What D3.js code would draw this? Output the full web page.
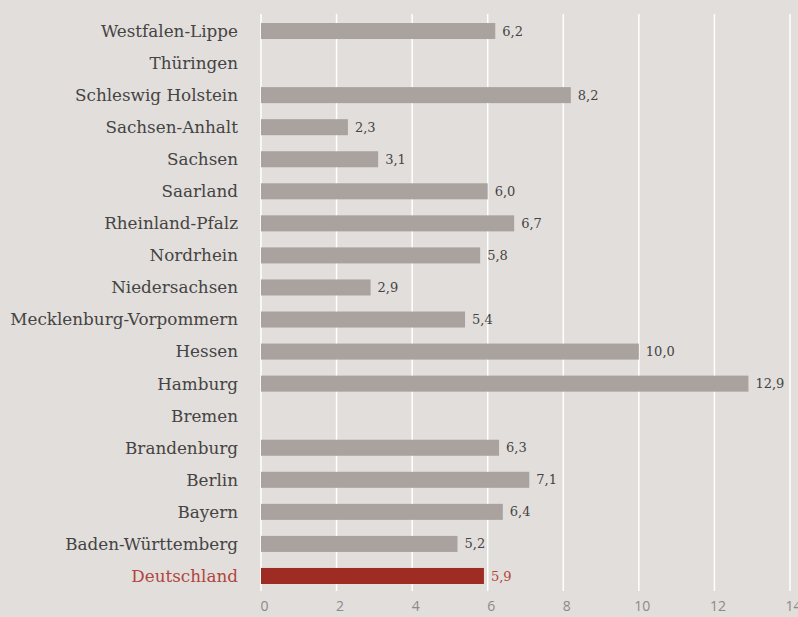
<!DOCTYPE html>
<html>
<head>
<meta charset="utf-8">
<script src="https://cdn.jsdelivr.net/npm/d3@7"></script>
<style>
  html, body { margin: 0; padding: 0; background: #e2dedb; }
  svg { display: block; }
</style>
</head>
<body>
<div id="plot"></div>
<script>
// rows, top to bottom
var regions = ["Westfalen-Lippe", "Thüringen", "Schleswig Holstein", "Sachsen-Anhalt", "Sachsen",
  "Saarland", "Rheinland-Pfalz", "Nordrhein", "Niedersachsen", "Mecklenburg-Vorpommern",
  "Hessen", "Hamburg", "Bremen", "Brandenburg", "Berlin", "Bayern", "Baden-Württemberg", "Deutschland"];
var values = [6.2, null, 8.2, 2.3, 3.1, 6.0, 6.7, 5.8, 2.9, 5.4, 10.0, 12.9, null, 6.3, 7.1, 6.4, 5.2, 5.9];
var ticks = [0, 2, 4, 6, 8, 10, 12, 14];
var highlight = "Deutschland";

var width = 798, height = 617;

var svg = d3.select("#plot").append("svg")
  .attr("width", width)
  .attr("height", height);

svg.append("rect").attr("width", width).attr("height", height).attr("fill", "#e2dedb");

var x = d3.scaleLinear().domain([0, 14]).range([261, 790]);
var y = d3.scaleBand().domain(regions).range([23, 584]).paddingInner(0.5).paddingOuter(0);

// grid lines
svg.append("g").selectAll("line")
  .data(ticks)
  .enter().append("line")
  .attr("x1", function(d) { return x(d); })
  .attr("x2", function(d) { return x(d); })
  .attr("y1", 14)
  .attr("y2", 591)
  .attr("stroke", "#ffffff")
  .attr("stroke-width", 1.5);

// x axis labels
var xAxis = svg.append("g")
  .attr("transform", "translate(0,601)")
  .call(d3.axisBottom(x).tickValues(ticks).tickSize(0).tickPadding(0).tickFormat(d3.format("d")));
xAxis.select(".domain").remove();
xAxis.selectAll("text")
  .attr("dy", "0.71em")
  .attr("dx", 3)
  .style("font-family", "'Open Sans', sans-serif")
  .style("font-size", "14px")
  .attr("fill", "#8c8a88");

var rows = regions.map(function(r, i) { return { name: r, value: values[i] }; });

// bars
svg.append("g").selectAll("rect")
  .data(rows.filter(function(d) { return d.value != null; }))
  .enter().append("rect")
  .attr("x", x(0))
  .attr("y", function(d) { return y(d.name); })
  .attr("width", function(d) { return x(d.value) - x(0); })
  .attr("height", y.bandwidth())
  .attr("fill", function(d) { return d.name === highlight ? "#9e2c23" : "#aaa29e"; });

// value labels
svg.append("g").selectAll("text")
  .data(rows.filter(function(d) { return d.value != null; }))
  .enter().append("text")
  .attr("x", function(d) { return x(d.value) + 7; })
  .attr("y", function(d) { return y(d.name) + y.bandwidth() / 2; })
  .attr("dy", "0.35em")
  .style("font-family", "'DejaVu Serif', serif")
  .style("font-size", "13px")
  .attr("fill", function(d) { return d.name === highlight ? "#b0463e" : "#444"; })
  .text(function(d) { return d.value.toFixed(1).replace(".", ","); });

// category labels
svg.append("g").selectAll("text")
  .data(rows)
  .enter().append("text")
  .attr("x", 238)
  .attr("y", function(d) { return y(d.name) + y.bandwidth() / 2; })
  .attr("dy", "0.35em")
  .attr("text-anchor", "end")
  .style("font-family", "'DejaVu Serif', serif")
  .style("font-size", "16.8px")
  .attr("fill", function(d) { return d.name === highlight ? "#b0463e" : "#444"; })
  .text(function(d) { return d.name; });
</script>
</body>
</html>
